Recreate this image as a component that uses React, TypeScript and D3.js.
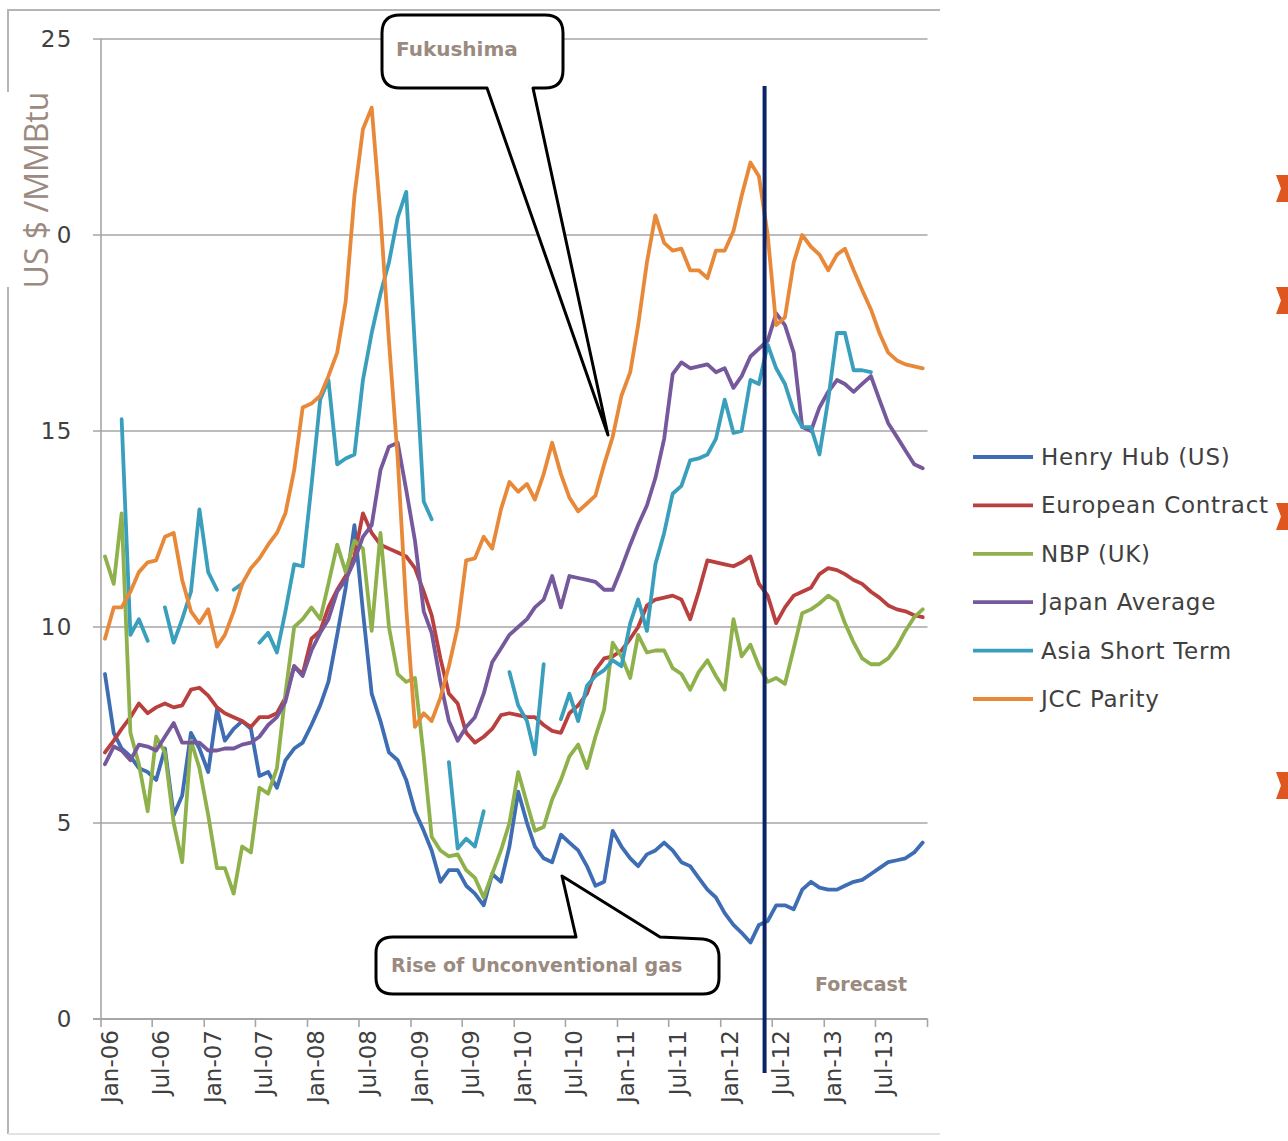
import React from "react";
import * as d3 from "d3";

// Monthly prices, US$/MMBtu, Jan-06 .. Dec-13 (null = no quote)
const henryHub = [
  8.8, 7.3, 6.9, 6.7, 6.4, 6.3, 6.1, 6.9, 5.2, 5.7,
  7.3, 6.9, 6.3, 7.9, 7.1, 7.4, 7.6, 7.4, 6.2, 6.3,
  5.9, 6.6, 6.9, 7.05, 7.5, 8.0, 8.6, 9.8, 11.0, 12.6,
  10.4, 8.3, 7.6, 6.8, 6.6, 6.1, 5.3, 4.8, 4.3, 3.5,
  3.8, 3.8, 3.4, 3.2, 2.9, 3.7, 3.5, 4.4, 5.8, 5.0,
  4.4, 4.1, 4.0, 4.7, 4.5, 4.3, 3.9, 3.4, 3.5, 4.8,
  4.4, 4.1, 3.9, 4.2, 4.3, 4.5, 4.3, 4.0, 3.9, 3.6,
  3.3, 3.1, 2.7, 2.4, 2.2, 1.95, 2.4, 2.5, 2.9, 2.9,
  2.8, 3.3, 3.5, 3.35, 3.3, 3.3, 3.4, 3.5, 3.55, 3.7,
  3.85, 4.0, 4.05, 4.1, 4.25, 4.5,
];

const europeanContract = [
  6.8, 7.1, 7.4, 7.7, 8.05, 7.8, 7.95, 8.05, 7.95, 8.0,
  8.4, 8.45, 8.25, 7.95, 7.8, 7.7, 7.6, 7.45, 7.7, 7.7,
  7.8, 8.2, 9.0, 8.8, 9.7, 9.9, 10.5, 10.95, 11.3, 11.8,
  12.9, 12.4, 12.1, 12.0, 11.9, 11.8, 11.5, 10.9, 10.3, 9.2,
  8.3, 8.05, 7.3, 7.05, 7.2, 7.4, 7.75, 7.8, 7.75, 7.7,
  7.7, 7.5, 7.35, 7.3, 7.8, 8.0, 8.3, 8.9, 9.2, 9.25,
  9.4, 9.7, 10.0, 10.55, 10.7, 10.75, 10.8, 10.7, 10.2, 10.9,
  11.7, 11.65, 11.6, 11.55, 11.65, 11.8, 11.1, 10.8, 10.1, 10.5,
  10.8, 10.9, 11.0, 11.35, 11.5, 11.45, 11.35, 11.2, 11.1, 10.9,
  10.75, 10.55, 10.45, 10.4, 10.3, 10.25,
];

const nbpUK = [
  11.8, 11.1, 12.9, 7.3, 6.5, 5.3, 7.2, 6.8, 5.0, 4.0,
  7.1, 6.4, 5.2, 3.85, 3.85, 3.2, 4.4, 4.25, 5.9, 5.75,
  6.4, 8.3, 10.0, 10.2, 10.5, 10.2, 11.1, 12.1, 11.4, 12.2,
  12.0, 9.9, 12.4, 10.0, 8.8, 8.6, 8.7, 6.7, 4.65, 4.3,
  4.15, 4.2, 3.8, 3.6, 3.1, 3.7, 4.3, 5.0, 6.3, 5.5,
  4.8, 4.9, 5.6, 6.1, 6.7, 7.0, 6.4, 7.2, 7.9, 9.6,
  9.25, 8.7, 9.8, 9.35, 9.4, 9.4, 8.95, 8.8, 8.4, 8.85,
  9.15, 8.75, 8.4, 10.2, 9.25, 9.55, 9.0, 8.6, 8.7, 8.55,
  9.45, 10.35, 10.45, 10.6, 10.8, 10.65, 10.1, 9.6, 9.2, 9.05,
  9.05, 9.2, 9.5, 9.9, 10.25, 10.45,
];

const japanAverage = [
  6.5, 6.95, 6.85, 6.6, 7.0, 6.95, 6.85, 7.2, 7.55, 7.05,
  7.05, 7.05, 6.85, 6.85, 6.9, 6.9, 7.0, 7.05, 7.2, 7.5,
  7.7, 8.1, 9.0, 8.75, 9.4, 9.85, 10.2, 10.9, 11.2, 11.7,
  12.3, 12.6, 14.0, 14.6, 14.7, 13.5, 12.2, 10.4, 9.85, 8.6,
  7.6, 7.1, 7.45, 7.7, 8.3, 9.1, 9.45, 9.8, 10.0, 10.2,
  10.5, 10.7, 11.3, 10.5, 11.3, 11.25, 11.2, 11.15, 10.95, 10.95,
  11.5, 12.1, 12.6, 13.1, 13.8, 14.8, 16.45, 16.75, 16.6, 16.65,
  16.7, 16.5, 16.6, 16.1, 16.4, 16.9, 17.1, 17.3, 18.0, 17.7,
  17.0, 15.1, 15.0, 15.6, 16.0, 16.3, 16.2, 16.0, 16.2, 16.4,
  15.8, 15.2, 14.85, 14.5, 14.15, 14.05,
];

const asiaShortTerm = [
  null, null, 15.3, 9.8, 10.2, 9.65, null, 10.5, 9.6, 10.2,
  10.9, 13.0, 11.4, 10.95, null, 10.95, 11.1, null, 9.6, 9.85,
  9.35, 10.4, 11.6, 11.55, 13.6, 15.8, 16.3, 14.15, 14.3, 14.4,
  16.3, 17.5, 18.5, 19.3, 20.45, 21.1, 17.1, 13.2, 12.75, null,
  6.55, 4.35, 4.6, 4.4, 5.3, null, null, 8.85, 8.0, 7.6,
  6.75, 9.05, null, 7.65, 8.3, 7.6, 8.5, 8.75, 8.9, 9.15,
  9.0, 10.1, 10.7, 9.9, 11.6, 12.4, 13.4, 13.6, 14.25, 14.3,
  14.4, 14.8, 15.8, 14.95, 15.0, 16.3, 16.2, 17.2, 16.6, 16.2,
  15.5, 15.1, 15.1, 14.4, 15.8, 17.5, 17.5, 16.55, 16.55, 16.5,
  null, null, null, null, null, null,
];

const jccParity = [
  9.7, 10.5, 10.5, 10.9, 11.4, 11.65, 11.7, 12.3, 12.4, 11.2,
  10.4, 10.1, 10.45, 9.5, 9.8, 10.4, 11.1, 11.5, 11.75, 12.1,
  12.4, 12.9, 14.0, 15.6, 15.7, 15.9, 16.4, 17.0, 18.3, 21.0,
  22.7, 23.25, 20.5, 17.3, 14.3, 10.5, 7.45, 7.8, 7.6, 8.2,
  9.0, 10.0, 11.7, 11.75, 12.3, 12.0, 13.0, 13.7, 13.45, 13.65,
  13.25, 13.9, 14.7, 13.9, 13.3, 12.95, 13.15, 13.35, 14.15, 14.85,
  15.9, 16.5, 17.7, 19.3, 20.5, 19.8, 19.6, 19.65, 19.1, 19.1,
  18.9, 19.6, 19.6, 20.1, 21.0, 21.85, 21.5, 20.0, 17.7, 17.9,
  19.3, 20.0, 19.7, 19.5, 19.1, 19.5, 19.65, 19.1, 18.6, 18.1,
  17.5, 17.0, 16.8, 16.7, 16.65, 16.6,
];

const seriesNames = [
  "Henry Hub (US)",
  "European Contract",
  "NBP (UK)",
  "Japan Average",
  "Asia Short Term",
  "JCC Parity",
];
const seriesColors = ["#3e6db4", "#b9403e", "#8fb14c", "#76589c", "#3a9fbc", "#e8893a"];
const seriesValues = [henryHub, europeanContract, nbpUK, japanAverage, asiaShortTerm, jccParity];

const yTicks = [0, 5, 10, 15, 20, 25];
const firstMonth = new Date(2006, 0, 1);
const lastMonth = new Date(2014, 0, 1);
const forecastStart = new Date(2012, 5, 4);

const W = 1288;
const H = 1141;
const plot = { left: 101, right: 927.5, top: 39, bottom: 1019 };

const TICK_FONT = "'DejaVu Sans', Verdana, sans-serif";
const NOTE_COLOR = "#9a8a7f";

export default function App() {
  const x = d3.scaleTime().domain([firstMonth, lastMonth]).range([plot.left, plot.right]);
  const y = d3.scaleLinear().domain([0, 25]).range([plot.bottom, plot.top]);
  const monthDate = (i: number) => new Date(2006, i, 15);

  const line = d3
    .line<number | null>()
    .defined((v) => v != null)
    .x((_, i) => x(monthDate(i)))
    .y((v) => y(v as number));

  const xTicks = d3.timeMonth.every(6)!.range(firstMonth, d3.timeMonth.offset(lastMonth, 1));
  const fmt = d3.timeFormat("%b-%y");
  const xf = x(forecastStart);

  const legendY = (i: number) => 457 + i * 48.4;

  return (
    <svg
      width={W}
      height={H}
      viewBox={`0 0 ${W} ${H}`}
      style={{ display: "block", position: "absolute", left: 0, top: 0, background: "#fff" }}
    >
      <rect x={0} y={0} width={W} height={H} fill="#fff" />
      {/* outer frame */}
      <path d={`M8,1134 V10 H940`} fill="none" stroke="#b5b5b5" strokeWidth={2} />
      <line x1={8} x2={940} y1={1134} y2={1134} stroke="#e3e3e3" strokeWidth={2} />

      {/* gridlines and y ticks */}
      {yTicks.map((t) => (
        <g key={t}>
          <line x1={93} x2={plot.right} y1={y(t)} y2={y(t)} stroke="#a6a6a6" strokeWidth={1.6} />
          <text
            x={73}
            y={y(t)}
            textAnchor="end"
            dominantBaseline="central"
            fontFamily={TICK_FONT}
            fontSize={23}
            letterSpacing={1.5}
            fill="#404040"
          >
            {t}
          </text>
        </g>
      ))}

      {/* axes */}
      <line x1={plot.left} x2={plot.left} y1={plot.top} y2={plot.bottom} stroke="#a6a6a6" strokeWidth={1.6} />
      <line x1={93} x2={plot.right} y1={plot.bottom} y2={plot.bottom} stroke="#a6a6a6" strokeWidth={1.8} />
      {xTicks.map((d, i) => (
        <g key={i}>
          <line x1={x(d)} x2={x(d)} y1={plot.bottom} y2={plot.bottom + 8} stroke="#a6a6a6" strokeWidth={1.6} />
          {d < lastMonth && (
            <text
              transform={`translate(${x(d) + 9},${plot.bottom + 11}) rotate(-90)`}
              textAnchor="end"
              dominantBaseline="central"
              fontFamily={TICK_FONT}
              fontSize={23}
              fill="#404040"
            >
              {fmt(d)}
            </text>
          )}
        </g>
      ))}

      {/* price series */}
      {seriesValues.map((vals, k) => (
        <path
          key={seriesNames[k]}
          d={line(vals) || ""}
          fill="none"
          stroke={seriesColors[k]}
          strokeWidth={3.8}
          strokeLinejoin="round"
          strokeLinecap="round"
        />
      ))}

      {/* y-axis title on its white panel */}
      <rect x={0} y={92} width={57} height={195} fill="#fff" />
      <text
        transform="translate(35,190) rotate(-90)"
        textAnchor="middle"
        dominantBaseline="central"
        fontFamily="'Open Sans', sans-serif"
        fontSize={32}
        fill={NOTE_COLOR}
      >
        US $ /MMBtu
      </text>

      {/* Fukushima callout */}
      <path
        d="M400,15 H545 Q563,15 563,33 V70 Q563,88 545,88 H533 L608,435 L487,88 H400 Q382,88 382,70 V33 Q382,15 400,15 Z"
        fill="#fff"
        stroke="#000"
        strokeWidth={3}
        strokeLinejoin="round"
      />
      <text x={396} y={56} fontFamily={TICK_FONT} fontWeight="bold" fontSize={20} fill={NOTE_COLOR}>
        Fukushima
      </text>

      {/* unconventional gas callout */}
      <path
        d="M393,937 H576 L562,876 L660,937 L703,939 Q719,941 719,957 V978 Q719,994 703,994 H393 Q376,994 376,978 V953 Q376,937 393,937 Z"
        fill="#fff"
        stroke="#000"
        strokeWidth={3}
        strokeLinejoin="round"
      />
      <text x={391} y={972} fontFamily={TICK_FONT} fontWeight="bold" fontSize={19} fill={NOTE_COLOR}>
        Rise of Unconventional gas
      </text>

      {/* forecast divider */}
      <line x1={xf} x2={xf} y1={86} y2={1073} stroke="#0c2466" strokeWidth={4} />
      <text x={815} y={991} fontFamily={TICK_FONT} fontWeight="bold" fontSize={19} fill={NOTE_COLOR}>
        Forecast
      </text>

      {/* legend */}
      {seriesNames.map((name, i) => (
        <g key={name}>
          <line x1={973} x2={1033} y1={legendY(i)} y2={legendY(i)} stroke={seriesColors[i]} strokeWidth={3.8} />
          <text
            x={1041}
            y={legendY(i)}
            dominantBaseline="central"
            fontFamily={TICK_FONT}
            fontSize={23}
            letterSpacing={0.7}
            fill="#404040"
          >
            {name}
          </text>
        </g>
      ))}

      {/* bullet markers at the right edge */}
      {[175, 287, 503, 772].map((top) => (
        <path
          key={top}
          d={`M1276,${top} H1290 V${top + 27} H1276 L1281,${top + 13.5} Z`}
          fill="#e0561f"
        />
      ))}
    </svg>
  );
}
